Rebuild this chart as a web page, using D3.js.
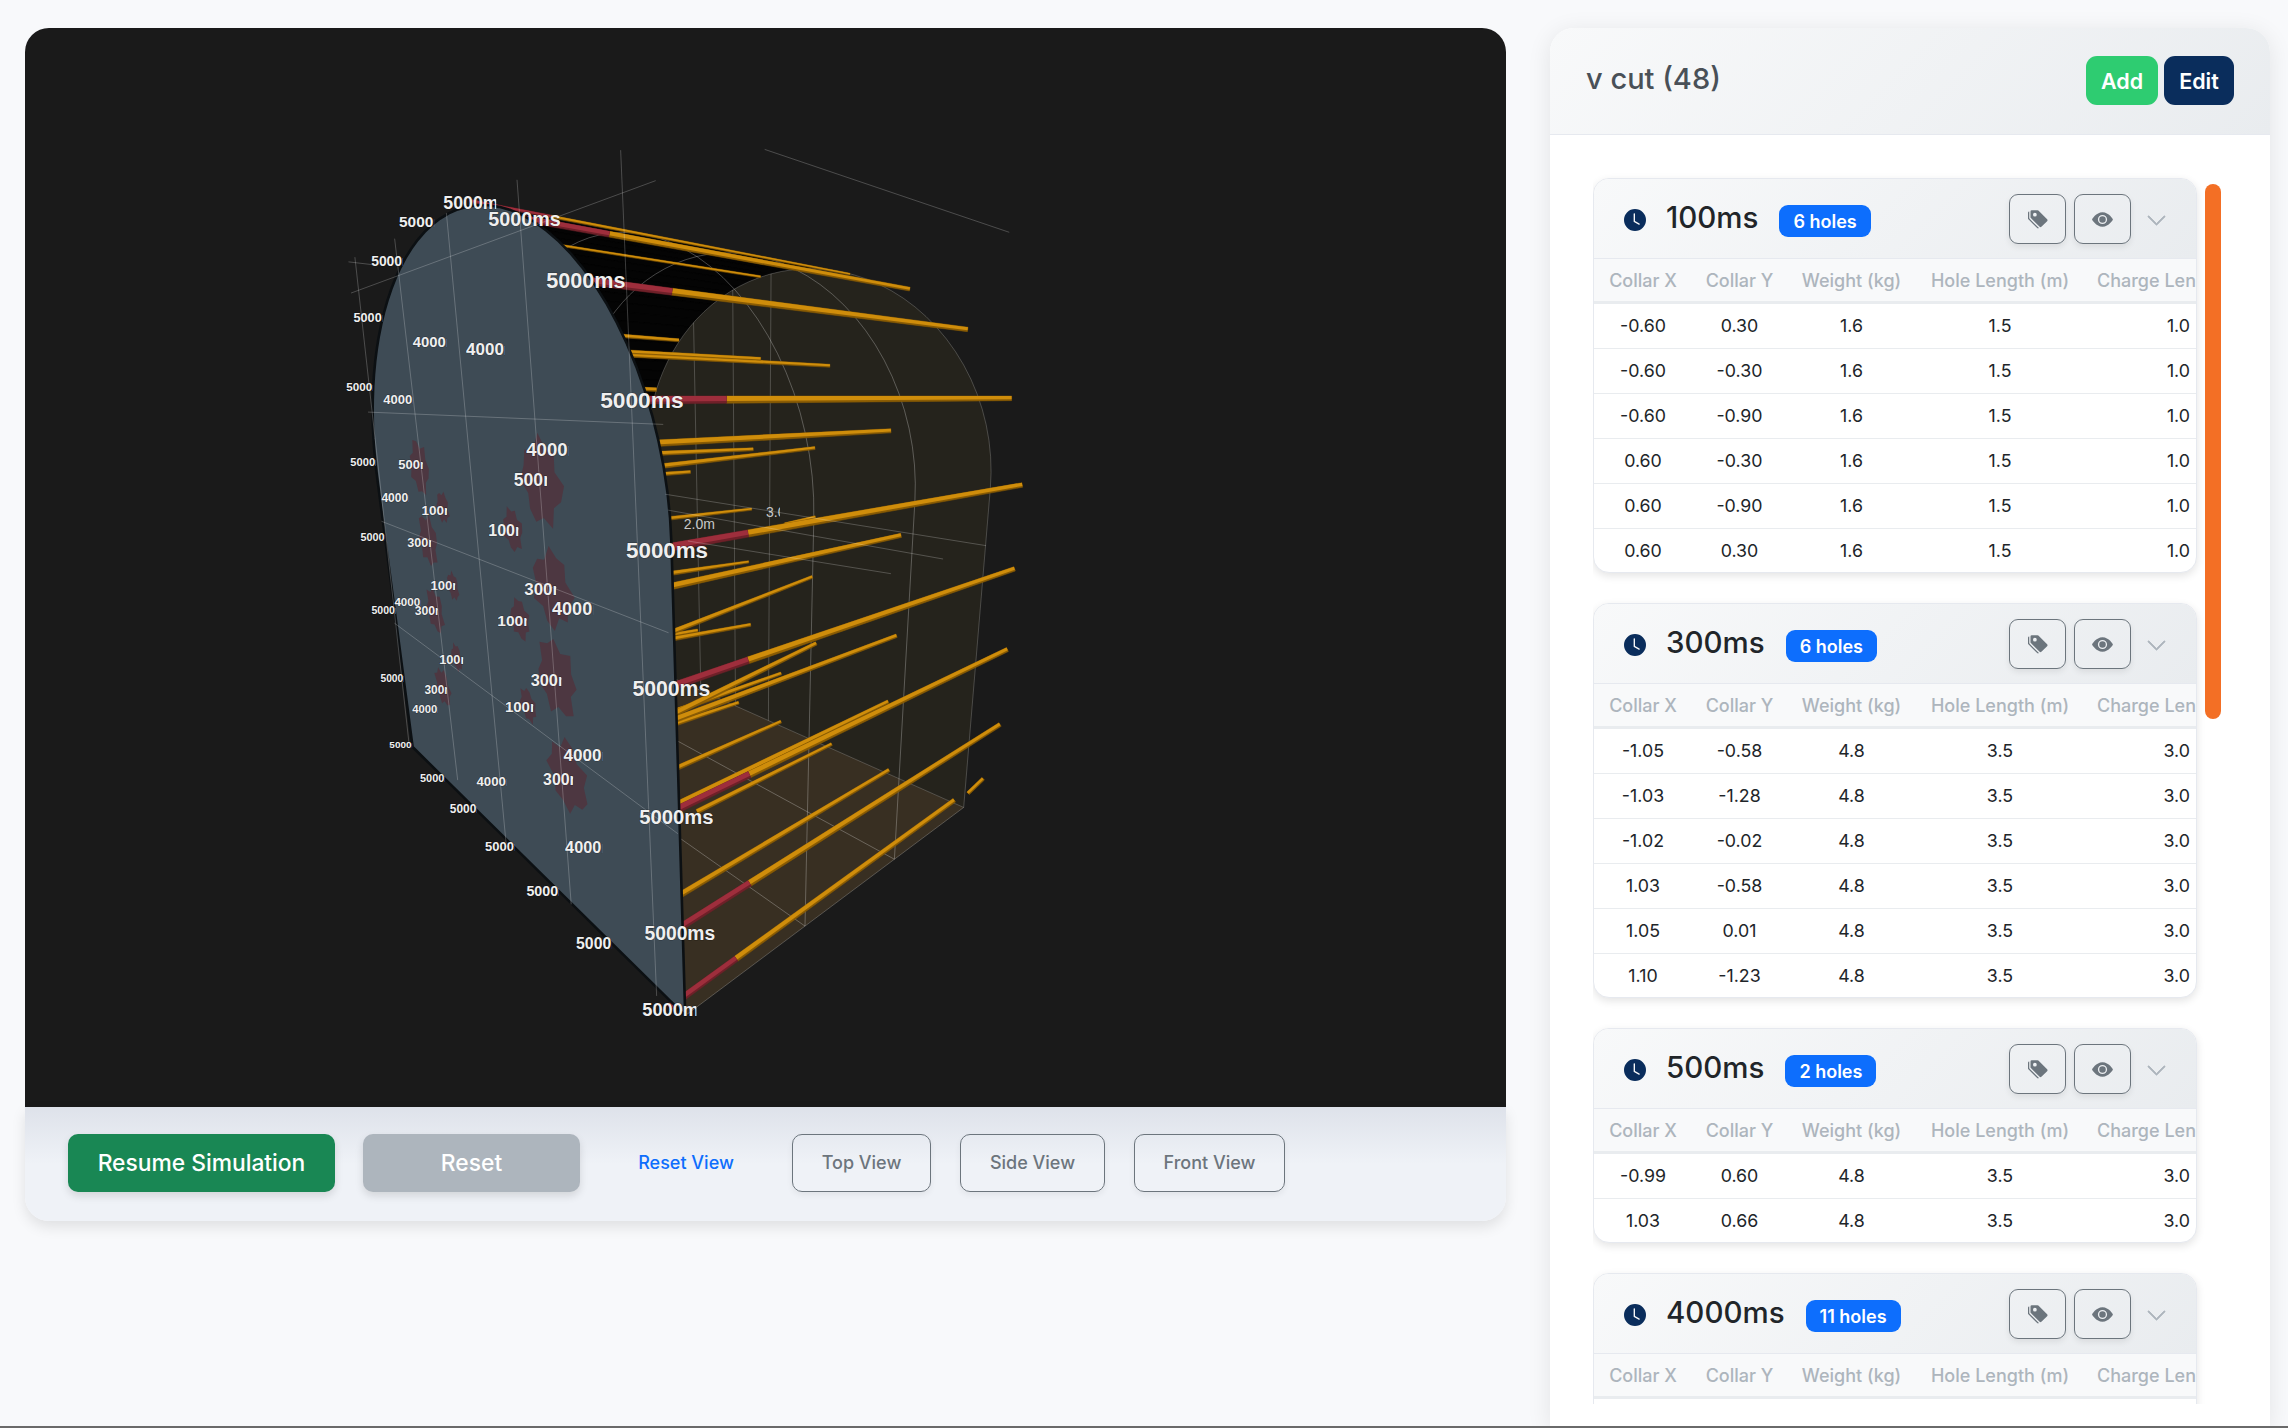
<!DOCTYPE html>
<html><head><meta charset="utf-8">
<script src="https://cdnjs.cloudflare.com/ajax/libs/d3/7.8.5/d3.min.js"></script>
<style>
html,body{margin:0;padding:0;width:2288px;height:1428px;overflow:hidden;background:#f8f9fb;font-family:Inter,"Noto Sans",sans-serif;color:#212529}
*{box-sizing:border-box}
.abs{position:absolute}
#stage{position:absolute;left:25px;top:28px;width:1481px;height:1079px;background:#1a1a1a;border-radius:24px 24px 0 0;overflow:hidden}
#ctrlCard{position:absolute;left:25px;top:1107px;width:1481px;height:114px;border-radius:0 0 24px 24px;background:linear-gradient(180deg,#dee2ea 0,#eff2f7 50%,#eff2f7 100%);box-shadow:0 6px 14px rgba(0,0,0,.1)}
.btn{position:absolute;top:1134px;height:58px;display:flex;align-items:center;justify-content:center;border-radius:10px;white-space:nowrap;padding-bottom:2px}
.solid{font-size:22.8px;font-weight:500;color:#fff;box-shadow:0 4px 8px rgba(0,0,0,.12)}
.outline{font-size:18px;font-weight:500;color:#6c757d;border:1.5px solid #6c757d;box-shadow:0 3px 6px rgba(0,0,0,.06)}
.link{font-size:18px;font-weight:500;color:#0d6efd}
#panel{position:absolute;left:1550px;top:28px;width:720px;height:1398px;background:#fff;border-radius:24px 24px 0 0;box-shadow:0 4px 24px rgba(0,0,0,.09);overflow:hidden}
#panelHead{position:absolute;left:0;top:0;width:720px;height:107px;background:linear-gradient(135deg,#f8f9fa,#e9ecef);border-bottom:1px solid #e6e9ef}
#panelTitle{position:absolute;left:36px;top:33px;font-size:29px;font-weight:500;color:#495057;line-height:36px}
.hb{position:absolute;top:28px;height:49px;border-radius:11px;color:#fff;font-size:21.5px;font-weight:600;display:flex;align-items:center;justify-content:center}
#list{position:absolute;left:1593px;top:0;width:640px;height:1404px;overflow:hidden}
.grp{position:absolute;left:0;width:604px;background:#fff;border:1px solid #e6e9ef;border-radius:16px;box-shadow:0 3px 8px rgba(0,0,0,.11);overflow:hidden}
.ghead{position:absolute;left:0;top:0;width:100%;height:80px;background:linear-gradient(135deg,#f8f9fa,#e9ecef);border-bottom:1px solid #e6e9ef}
.gt{position:absolute;left:72px;top:0;height:80px;display:flex;align-items:center}
.gtime{font-size:29.5px;font-weight:500;color:#212529;line-height:1;position:relative;top:-1.5px}
.badge{margin-left:21px;height:32px;padding:0 14px;border-radius:9px;background:#0d6efd;color:#fff;font-size:18px;font-weight:600;display:flex;align-items:center;position:relative;top:2px}
.ib{position:absolute;top:15px;width:57px;height:50px;border:1.2px solid #6c757d;border-radius:9px;display:flex;align-items:center;justify-content:center;box-shadow:0 3px 6px rgba(0,0,0,.08)}
.thead{position:absolute;left:0;top:80px;width:100%;height:45px;background:#f8f9fa;border-bottom:3px solid #e9ecef}
.th{position:absolute;top:0;height:42px;line-height:43px;font-size:18px;font-weight:500;color:#adb5bd;white-space:nowrap}
.tr{position:absolute;left:0;width:100%;height:45px;border-bottom:1px solid #e9ecef}
.td{position:absolute;top:0;height:44px;line-height:44px;font-size:17.8px;color:#212529;white-space:nowrap}
#bar{position:absolute;left:2205px;top:184px;width:16px;height:535px;background:#f36f25;border-radius:8px}
#rule{position:absolute;left:0;top:1426px;width:2288px;height:2px;background:#6a6a6a}
text{user-select:none}
</style></head>
<body>
<div id="stage"><svg id="chart" width="1481" height="1079"></svg></div>
<div id="ctrlCard"></div>
<div id="buttons"></div>
<div id="panel"><div id="panelHead"><div id="panelTitle"></div></div></div>
<div id="list"></div>
<div id="bar"></div>
<div id="rule"></div>
<script>
// ---------- Panel data ----------
const panelTitle = "v cut (48)";
const groupTimes = ["100ms","300ms","500ms","4000ms"];
const groupHoles = [6,6,2,11];
const tableHeaders = ["Collar X","Collar Y","Weight (kg)","Hole Length (m)","Charge Len"];
const collarX100 = ["-0.60","-0.60","-0.60","0.60","0.60","0.60"];
const collarY100 = ["0.30","-0.30","-0.90","-0.30","-0.90","0.30"];
const weight100  = ["1.6","1.6","1.6","1.6","1.6","1.6"];
const length100  = ["1.5","1.5","1.5","1.5","1.5","1.5"];
const charge100  = ["1.0","1.0","1.0","1.0","1.0","1.0"];
const collarX300 = ["-1.05","-1.03","-1.02","1.03","1.05","1.10"];
const collarY300 = ["-0.58","-1.28","-0.02","-0.58","0.01","-1.23"];
const weight300  = ["4.8","4.8","4.8","4.8","4.8","4.8"];
const length300  = ["3.5","3.5","3.5","3.5","3.5","3.5"];
const charge300  = ["3.0","3.0","3.0","3.0","3.0","3.0"];
const collarX500 = ["-0.99","1.03"];
const collarY500 = ["0.60","0.66"];
const weight500  = ["4.8","4.8"];
const length500  = ["3.5","3.5"];
const charge500  = ["3.0","3.0"];
const groupRows = [
  [collarX100,collarY100,weight100,length100,charge100],
  [collarX300,collarY300,weight300,length300,charge300],
  [collarX500,collarY500,weight500,length500,charge500],
  []
];
const controlLabels = ["Resume Simulation","Reset","Reset View","Top View","Side View","Front View"];

// ---------- Scene data (metres, tunnel axes: x across, y up, z along the drive) ----------
const holeX0=[0.37,1.13,1.79,2.28,2.46,2.46,2.47,2.47,2.33,-8.04,-1.96,-1.87,-0.80,-1.68,1.67,-0.43,0.34,-1.32,-1.18,-0.22,-0.13,1.90,0.67,0.01,-0.90,1.74,1.73,0.81,0.18,0.91,2.18,1.10,1.99,1.83];
const holeY0=[5.01,4.77,4.35,3.72,2.97,2.19,1.43,0.63,-0.06,6.72,4.48,4.30,4.18,3.88,3.46,3.23,3.18,2.92,2.42,2.34,2.07,2.58,1.78,1.44,1.11,1.57,1.61,1.11,0.62,0.63,1.24,0.26,0.39,-0.70];
const holeZ0=[0,0,0,0,0,0,0,0,0,9.43,4.75,4.80,3.58,4.87,0.92,3.66,2.72,4.90,4.83,6.58,3.46,0.77,2.41,3.29,4.49,0.99,1.01,2.23,3.06,2.09,0.40,2.21,0.66,8.41];
const holeX1=[0.37,1.13,1.79,2.28,2.46,2.46,2.47,2.47,2.33,-5.17,-2.85,-2.00,-1.31,-1.55,1.15,-1.85,-1.25,-2.40,-3.49,-2.69,-3.36,1.41,-0.95,-1.43,-1.93,0.92,0.28,-1.01,-1.35,-0.89,0.99,-0.34,1.14,1.92];
const holeY1=[5.00,4.77,4.35,3.73,2.97,2.19,1.40,0.62,-0.05,6.09,4.57,4.31,4.21,3.87,3.43,3.09,3.10,2.79,1.93,1.79,1.04,2.42,1.36,0.72,0.65,1.08,1.00,0.06,-0.33,-0.59,0.34,-0.90,-0.43,-0.54];
const holeZ1=[7.17,7.17,7.19,7.20,7.19,7.20,7.18,7.17,6.22,14.39,7.53,8.93,10.17,5.11,6.76,8.42,9.55,7.17,11.13,12.54,10.78,6.57,8.95,7.62,6.63,7.88,6.64,7.97,7.07,7.76,7.52,8.59,7.29,8.70];
const holeGauge=[0.45,0.9,1,1,1,1,1,1,1,1,1,1,1,1,1,1,1,1,1,1,1,1,1,1,1,1,1,1,1,1,1,1,1,1];
const labelTime=["5000ms","5000ms","5000ms","5000ms","5000ms","5000ms","5000ms","5000ms","5000ms","5000ms","5000ms","5000ms","5000ms","5000ms","5000ms","5000ms","5000ms","5000ms","5000ms","5000ms","5000ms","5000ms","5000ms","4000ms","4000ms","4000ms","4000ms","4000ms","4000ms","4000ms","4000ms","4000ms","4000ms","4000ms","500ms","500ms","100ms","100ms","100ms","100ms","100ms","100ms","300ms","300ms","300ms","300ms","300ms","300ms"];
const labelX=[0.37,1.13,1.79,2.28,2.46,2.46,2.47,2.47,2.33,-0.63,-1.41,-2.13,-2.69,-2.93,-2.95,-2.92,-2.94,-2.96,-1.93,-1.08,-0.24,0.58,1.39,-0.63,0.41,-1.56,1.21,-2.00,-2.02,1.40,-1.89,1.41,-0.28,1.33,-1.43,0.94,-0.95,0.44,-0.95,0.45,-0.95,0.44,-1.45,0.96,-1.48,0.94,-1.48,1.01];
const labelY=[5.00,4.77,4.35,3.72,2.96,2.18,1.39,0.59,-0.08,5.06,4.89,4.50,3.90,3.14,2.33,1.51,0.70,-0.14,-0.15,-0.14,-0.15,-0.16,-0.16,4.19,4.08,3.76,3.43,2.84,1.79,2.42,0.66,1.38,0.49,0.62,3.19,3.22,2.83,2.82,2.15,2.13,1.45,1.43,2.47,2.47,1.81,1.79,1.00,1.03];
const stainX=[-1.21,1.09,-0.74,-1.20,0.60,1.13,-0.70,-1.23,0.59,-0.80,-1.26,1.10,0.60,1.16];
const stainY=[3.18,3.21,2.87,2.53,2.84,2.50,2.19,1.86,2.17,1.51,1.09,1.85,1.49,1.12];
const stainR=[0.24,0.29,0.14,0.24,0.16,0.28,0.13,0.22,0.16,0.13,0.20,0.29,0.14,0.29];
const stainProfile=[1,.8,1.08,.74,.94,1.05,.72,.97,.82,1.1,.76,1,.88,1.06,.74,.92];
const gridX0=[-2.29,-1.16,-0.04,1.07,2.18,-2.56,-2.51,-2.52,-2.55,-2.57,3.19,2.46,2.48,2.64];
const gridY0=[5.04,5.02,5.01,4.99,4.89,4.76,5.03,3.65,2.55,1.44,4.66,3.25,3.17,3.03];
const gridX1=[-2.62,-1.15,-0.09,1.07,2.19,2.46,-1.80,2.46,2.45,2.48,4.26,4.27,4.11,3.89];
const gridY1=[0.00,0.14,-0.05,-0.01,-0.07,4.70,4.91,3.60,2.50,1.28,4.19,3.23,3.16,3.07];
const backWallX=[-0.15,-0.75,-1.45];
const ribZ=[2,4,6];
const rulerText=["2.0m","3.0m"];
const rulerX=[0.68,1.02], rulerY=[2.69,2.77], rulerZ=[3,4];
const tunnelHalfWidth=2.5, wallHeight=3, crownRise=2, tunnelDepth=6, stemLength=1.05;
// Camera calibration: scene point -> pixel in the photograph
const calib=[[-2.5,0,0,412,747],[2.5,0,0,683,1017],[2.5,3,0,667,551],[-2.5,3,0,378,475],[0,5,0,452,212],[2.5,0,6,966,806],[2.5,3,6,991,493],[2.5,0,2,806,925],[2.5,0,4,897,858],[0,5,6,790,268],[-2.17,4,6,655,385],[2.17,4,6,955,360]];
const driveVanishing=[1510,399];

// ---------- Camera ----------
function solve(A,b){const n=b.length,M=A.map((r,i)=>[...r,b[i]]);for(let i=0;i<n;i++){let p=i;for(let k=i+1;k<n;k++)if(Math.abs(M[k][i])>Math.abs(M[p][i]))p=k;[M[i],M[p]]=[M[p],M[i]];for(let k=i+1;k<n;k++){const f=M[k][i]/M[i][i];for(let j=i;j<=n;j++)M[k][j]-=f*M[i][j];}}const x=Array(n).fill(0);for(let i=n-1;i>=0;i--){let s=M[i][n];for(let j=i+1;j<n;j++)s-=M[i][j]*x[j];x[i]=s/M[i][i];}return x;}
function fit(c){const R=[],B=[];c.forEach(([X,Y,Z,u,v])=>{R.push([X,Y,Z,1,0,0,0,0,-u*X,-u*Y,-u*Z]);B.push(u);R.push([0,0,0,0,X,Y,Z,1,-v*X,-v*Y,-v*Z]);B.push(v);});
const k=4;R.push([0,0,k,0,0,0,0,0,0,0,-driveVanishing[0]*k]);B.push(0);R.push([0,0,0,0,0,0,k,0,0,0,-driveVanishing[1]*k]);B.push(0);
const ATA=d3.range(11).map(i=>d3.range(11).map(j=>d3.sum(R,r=>r[i]*r[j])));const ATb=d3.range(11).map(i=>d3.sum(R,(r,k)=>r[i]*B[k]));return solve(ATA,ATb);}
const p=fit(calib);const P=[p.slice(0,4),p.slice(4,8),[...p.slice(8,11),1]];
const stageX=d3.scaleLinear().domain([25,1506]).range([0,1481]);
const stageY=d3.scaleLinear().domain([28,1107]).range([0,1079]);
const proj=(x,y,z)=>{const w=P[2][0]*x+P[2][1]*y+P[2][2]*z+1;return [stageX((P[0][0]*x+P[0][1]*y+P[0][2]*z+P[0][3])/w),stageY((P[1][0]*x+P[1][1]*y+P[1][2]*z+P[1][3])/w),w];};
const refW=proj(2.5,2.5,0)[2];
const holeWidth=d3.scaleLinear().domain([0,1/refW]).range([0,7.8]);
const labelSize=d3.scaleLinear().domain([0,1/proj(2.5,1.5,0)[2]]).range([0,20.5]);

// ---------- Scene ----------
const svg=d3.select("#chart");
const line=d3.line(), closed=d3.line().curve(d3.curveLinearClosed);
const xy=q=>[q[0],q[1]];
const archPt=(t,z)=>proj(tunnelHalfWidth*Math.cos(t),wallHeight+crownRise*Math.sin(t),z);
const angles=d3.range(0,Math.PI+1e-6,Math.PI/48);
const archOutline=z=>[xy(proj(tunnelHalfWidth,0,z)),...angles.map(t=>xy(archPt(t,z))),xy(proj(-tunnelHalfWidth,0,z))];

// interior seen behind the face
const ceil=svg.append("g");
angles.filter(t=>t>=Math.PI/2-.2&&t<Math.PI).forEach(t=>{const s=Math.PI/48;
  ceil.append("path").attr("d",closed([xy(archPt(t,0)),xy(archPt(t+s,0)),xy(archPt(t+s,tunnelDepth)),xy(archPt(t,tunnelDepth))])).attr("fill","#040404").attr("stroke","#040404").attr("stroke-width",.6);});
ceil.append("path").attr("d",closed([xy(proj(-2.5,3,0)),xy(proj(-2.5,3,tunnelDepth)),xy(proj(-2.5,0,tunnelDepth)),xy(proj(-2.5,0,0))])).attr("fill","#040404");
// back wall and floor
svg.append("path").attr("d",closed(archOutline(tunnelDepth))).attr("fill","#25231c");
svg.append("path").attr("d",closed([xy(proj(-2.5,0,0)),xy(proj(2.5,0,0)),xy(proj(2.5,0,tunnelDepth)),xy(proj(-2.5,0,tunnelDepth))])).attr("fill","#382f22");
// ribs
ribZ.forEach(z=>svg.append("path").attr("d",closed(archOutline(z))).attr("fill","none").attr("stroke","#fff").attr("stroke-opacity",z===6?.2:.26).attr("stroke-width",1));
svg.append("path").attr("d",line([xy(proj(2.5,0,0)),xy(proj(2.5,0,tunnelDepth))])).attr("fill","none").attr("stroke","#fff").attr("stroke-opacity",.22);
backWallX.forEach(x=>svg.append("path").attr("d",line([xy(proj(x,0,tunnelDepth)),xy(proj(x,wallHeight+crownRise*Math.sqrt(1-(x/tunnelHalfWidth)**2),tunnelDepth))])).attr("stroke","#fff").attr("stroke-opacity",.2).attr("fill","none"));

// rulers
rulerText.forEach((t,i)=>{const q=proj(rulerX[i],rulerY[i],rulerZ[i]);
  const id="rc"+i,w=i?14:34;
  svg.append("clipPath").attr("id",id).append("rect").attr("x",q[0]-w/2).attr("y",q[1]-12).attr("width",w).attr("height",24);
  svg.append("text").attr("x",q[0]-w/2).attr("y",q[1]+5).attr("clip-path",`url(#${id})`).attr("font-family","Liberation Sans").attr("font-size",14).attr("fill","#c8c8c8").text(t);});

// holes
const holes=d3.range(holeX0.length).map(i=>({x0:holeX0[i],y0:holeY0[i],z0:holeZ0[i],x1:holeX1[i],y1:holeY1[i],z1:holeZ1[i],g:holeGauge[i]}));
function band(a,b,g0,colourDark,colourLight,g){
  const ta=holeWidth(1/a[2])*g0,tb=holeWidth(1/b[2])*g0;
  let dx=b[0]-a[0],dy=b[1]-a[1],L=Math.hypot(dx,dy)||1;let nx=dy/L,ny=-dx/L;if(ny>0){nx=-nx;ny=-ny;}
  const q=(f0,f1)=>closed([[a[0]+nx*ta*f0,a[1]+ny*ta*f0],[b[0]+nx*tb*f0,b[1]+ny*tb*f0],[b[0]+nx*tb*f1,b[1]+ny*tb*f1],[a[0]+nx*ta*f1,a[1]+ny*ta*f1]]);
  g.append("path").attr("d",q(.5,-.5)).attr("fill",colourDark).attr("stroke",colourDark).attr("stroke-width",.5).attr("stroke-linejoin","round");
  g.append("path").attr("d",q(.5,-.2)).attr("fill",colourLight);
}
const holeG=svg.append("g");
holes.slice().reverse().forEach(h=>{
  const a=proj(h.x0,h.y0,h.z0),b=proj(h.x1,h.y1,h.z1);
  if(h.z0===0){
    const t=stemLength/h.z1,m=proj(h.x0+(h.x1-h.x0)*t,h.y0+(h.y1-h.y0)*t,h.z1*t);
    band(m,b,h.g,"#8a5c04","#cf8d0b",holeG);
    band(a,m,h.g,"#6f2029","#9e2e3c",holeG);
  } else band(a,b,h.g,"#8a5c04","#cf8d0b",holeG);
});

// face
const face=svg.append("g");
face.append("path").attr("d",closed(archOutline(0))).attr("fill","#3e4b55").attr("stroke","#0c1013").attr("stroke-width",2.6).attr("stroke-linejoin","round");
// stains
stainX.forEach((sx,i)=>{const n=stainProfile.length;
  const pts=d3.range(n).map(k=>{const th=k/n*2*Math.PI,r=stainR[i]*stainProfile[(k+i*5)%n];return xy(proj(sx+r*Math.cos(th),stainY[i]+r*Math.sin(th),0));});
  face.append("path").attr("d",closed(pts)).attr("fill","#4e3640").attr("fill-opacity",.95);});
// grid
gridX0.forEach((_,i)=>svg.append("path").attr("d",line([xy(proj(gridX0[i],gridY0[i],0)),xy(proj(gridX1[i],gridY1[i],0))])).attr("fill","none").attr("stroke","#fff").attr("stroke-opacity",.22).attr("stroke-width",1));
// labels
const labG=svg.append("g").attr("font-family","Liberation Sans").attr("font-weight",700);
labelX.forEach((lx,i)=>{
  const q=proj(lx,labelY[i],0),fs=labelSize(1/q[2]),txt=labelTime[i],digits=txt.length-2;
  const whole=i>=1&&i<=7;
  const edge=i===0||i===8;
  const vis=whole?(digits*.556+.889+.556)*fs:edge?(digits*.556+.75)*fs:(digits*.556+(digits===3?.22:.05))*fs;
  const x=q[0]-vis/2,id="lc"+i;
  svg.append("clipPath").attr("id",id).append("rect").attr("x",x-1).attr("y",q[1]-fs).attr("width",vis+1).attr("height",fs*2);
  labG.append("text").attr("x",x).attr("y",q[1]+fs*.36).attr("font-size",fs).attr("clip-path",`url(#${id})`)
    .attr("fill","#efefef").attr("stroke","#000").attr("stroke-opacity",.35).attr("stroke-width",1.1).attr("paint-order","stroke").text(txt);
});

// ---------- Controls ----------
const btnSpec=[[68,267,"solid","#198754"],[363,217,"solid","#adb5bd"],[620,132,"link",null],[792,139,"outline",null],[960,145,"outline",null],[1134,151,"outline",null]];
d3.select("#buttons").selectAll("div").data(controlLabels).join("div")
  .attr("class",(d,i)=>"btn "+btnSpec[i][2]).style("left",(d,i)=>btnSpec[i][0]+"px").style("width",(d,i)=>btnSpec[i][1]+"px")
  .style("background",(d,i)=>btnSpec[i][3]).text(d=>d);

// ---------- Right panel ----------
d3.select("#panelTitle").text(panelTitle);
d3.select("#panel").selectAll(".hb").data([["Add",536,72,"#2ecc71"],["Edit",614,70,"#0a2d5c"]]).join("div").attr("class","hb")
  .style("left",d=>d[1]+"px").style("width",d=>d[2]+"px").style("background",d=>d[3]).text(d=>d[0]);
const icons={
 clock:"M16 8A8 8 0 1 1 0 8a8 8 0 0 1 16 0zM8 3.5a.5.5 0 0 0-1 0V9a.5.5 0 0 0 .252.434l3.5 2a.5.5 0 0 0 .496-.868L8 8.71V3.5z",
 tags:"M2 2a1 1 0 0 1 1-1h4.586a1 1 0 0 1 .707.293l7 7a1 1 0 0 1 0 1.414l-4.586 4.586a1 1 0 0 1-1.414 0l-7-7A1 1 0 0 1 2 6.586V2zm3.5 4a1.5 1.5 0 1 0 0-3 1.5 1.5 0 0 0 0 3zM1.293 7.793A1 1 0 0 1 1 7.086V2a1 1 0 0 0-1 1v4.586a1 1 0 0 0 .293.707l7 7a1 1 0 0 0 1.414 0l.043-.043-7.457-7.457z",
 eye:"M10.5 8a2.5 2.5 0 1 1-5 0 2.5 2.5 0 0 1 5 0zM0 8s3-5.5 8-5.5S16 8 16 8s-3 5.5-8 5.5S0 8 0 8zm8 3.5a3.5 3.5 0 1 0 0-7 3.5 3.5 0 0 0 0 7z",
 chev:"M1.646 4.646a.5.5 0 0 1 .708 0L8 10.293l5.646-5.647a.5.5 0 0 1 .708.708l-6 6a.5.5 0 0 1-.708 0l-6-6a.5.5 0 0 1 0-.708z"};
const icon=(sel,name,size,colour,sw)=>sel.append("svg").attr("width",size).attr("height",size).attr("viewBox","0 0 16 16").style("display","block").append("path").attr("d",icons[name]).attr("fill",colour).attr("fill-rule","evenodd").attr("stroke",sw?colour:"none").attr("stroke-width",sw||0);
const groupTop=[178,603,1028,1273], colCenter=[49,145.5,257.5,406], colValueRight=597, colChargeLeft=503;
const list=d3.select("#list");
groupTimes.forEach((t,gi)=>{
  const rows=groupRows[gi], n=rows.length?rows[0].length:2;
  const g=list.append("div").attr("class","grp").style("top",groupTop[gi]+"px").style("height",(125+45*n)+"px");
  const head=g.append("div").attr("class","ghead");
  const ck=head.append("div").style("position","absolute").style("left",30+"px").style("top",30+"px");
  icon(ck,"clock",22,"#0a2d5c");
  const tt=head.append("div").attr("class","gt");
  tt.append("span").attr("class","gtime").text(t);
  tt.append("span").attr("class","badge").text(groupHoles[gi]+" holes");
  icon(head.append("div").attr("class","ib").style("left","415px"),"tags",20,"#6c757d");
  icon(head.append("div").attr("class","ib").style("left","480px"),"eye",21,"#6c757d");
  icon(head.append("div").style("position","absolute").style("left","552px").style("top","31px"),"chev",21,"#adb5bd",.6);
  const th=g.append("div").attr("class","thead");
  tableHeaders.forEach((h,i)=>{const c=th.append("div").attr("class","th").text(h);
    if(i<4) c.style("left",(colCenter[i]-100)+"px").style("width","200px").style("text-align","center");
    else c.style("left",colChargeLeft+"px");});
  if(rows.length) d3.range(n).forEach(r=>{
    const tr=g.append("div").attr("class","tr").style("top",(125+45*r)+"px");
    rows.forEach((col,i)=>{const c=tr.append("div").attr("class","td").text(col[r]);
      if(i<4) c.style("left",(colCenter[i]-60)+"px").style("width","120px").style("text-align","center");
      else c.style("right",(603-colValueRight)+"px");});
  });
});
</script>
</body></html>
